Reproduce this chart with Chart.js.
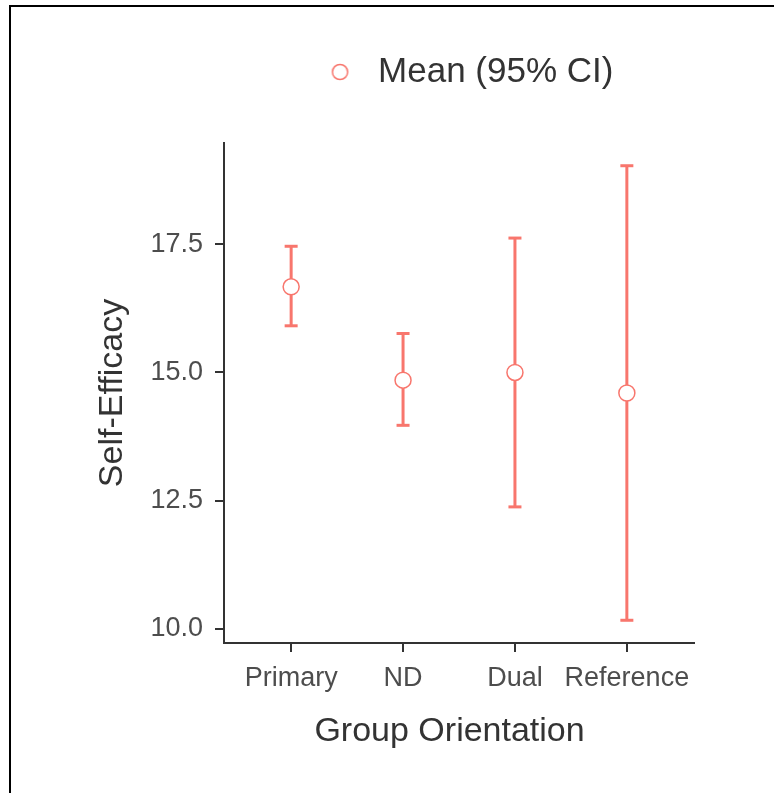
<!DOCTYPE html>
<html>
<head>
<meta charset="utf-8">
<script src="https://cdn.jsdelivr.net/npm/chart.js@4.4.0/dist/chart.umd.min.js"></script>
<style>
  html, body { margin: 0; padding: 0; background: #fff; }
  #wrap { position: relative; width: 774px; height: 793px; }
  #frame { position: absolute; left: 9px; top: 5px; right: 0; bottom: 0;
           border-left: 2px solid #000; border-top: 2px solid #000; pointer-events: none; }
  canvas { display: block; }
</style>
</head>
<body>
<div id="wrap">
  <canvas id="chart" width="774" height="793"></canvas>
  <div id="frame"></div>
</div>
<script>
// Group means of self-efficacy with 95% confidence limits
const categories = ['Primary', 'ND', 'Dual', 'Reference'];
const means   = [16.67, 14.85, 15.00, 14.60];
const lowerCI = [15.91, 13.97, 12.38, 10.17];
const upperCI = [17.46, 15.76, 17.62, 19.03];
const yTickValues = [10.0, 12.5, 15.0, 17.5];

const legendLabel = 'Mean (95% CI)';
const xAxisTitle = 'Group Orientation\u00A0\u00A0';
const yAxisTitle = 'Self-Efficacy';

const SALMON = '#F8766D';
const AXIS = '#333333';
Chart.defaults.font.family = "'Liberation Sans', Arial, Helvetica, sans-serif";

// groups sit at 1..n on a continuous x axis with 0.6 units of room at each end
const xPos = categories.map((_, i) => i + 1);

// y range: data span widened by 5% each side
const yLo = Math.min(...lowerCI), yHi = Math.max(...upperCI);
const yPad = (yHi - yLo) * 0.05;

// open-circle legend marker, set a little right of its box centre
const marker = document.createElement('canvas');
marker.width = 40; marker.height = 22;
(() => {
  const g = marker.getContext('2d');
  g.fillStyle = '#fff';
  g.strokeStyle = SALMON;
  g.lineWidth = 1.5;
  g.beginPath();
  g.arc(27.4, 11, 7.6, 0, Math.PI * 2);
  g.fill();
  g.stroke();
})();

const tickGrid = { display: true, drawOnChartArea: false, drawTicks: true, tickLength: 9, color: AXIS, lineWidth: 2, offset: false };
const axisBorder = { display: true, color: AXIS, width: 2 };

new Chart(document.getElementById('chart'), {
  type: 'scatter',
  data: {
    datasets: [
      {
        type: 'scatter',
        label: legendLabel,
        data: xPos.map((x, i) => ({ x, y: means[i] })),
        pointStyle: 'circle',
        pointRadius: 8,
        pointBorderWidth: 1.5,
        pointBackgroundColor: '#fff',
        pointBorderColor: SALMON
      },
      {
        type: 'scatter',
        label: 'caps',
        data: xPos.flatMap((x, i) => [{ x, y: lowerCI[i] }, { x, y: upperCI[i] }]),
        pointStyle: 'line',
        pointRadius: 6.5,
        pointBorderWidth: 3,
        pointBorderColor: SALMON,
        pointBackgroundColor: SALMON
      },
      {
        type: 'bar',
        label: 'ci',
        data: xPos.map((x, i) => ({ x, y: [lowerCI[i], upperCI[i]] })),
        barThickness: 3,
        backgroundColor: SALMON,
        borderWidth: 0,
        inflateAmount: 0
      }
    ]
  },
  options: {
    responsive: false,
    animation: false,
    events: [],
    layout: { padding: { top: 0, right: 80, bottom: 0, left: 0 } },
    plugins: {
      tooltip: { enabled: false },
      legend: {
        position: 'top',
        fullSize: false,
        align: 'center',
        labels: {
          usePointStyle: true,
          pointStyle: marker,
          pointStyleWidth: 56,
          font: { size: 35 },
          color: AXIS,
          padding: 54.5,
          filter: item => item.datasetIndex === 0
        }
      },
      // blank spacer between the legend and the plot panel
      title: {
        display: true,
        text: '',
        weight: 500,
        font: { size: 10, lineHeight: 1 },
        padding: { top: 0, bottom: 33.5 }
      }
    },
    scales: {
      x: {
        type: 'linear',
        offset: false,
        min: 0.4,
        max: 4.6,
        afterBuildTicks: s => { s.ticks = xPos.map(v => ({ value: v })); },
        afterFit: s => { s.height = 150; },
        ticks: {
          callback: v => categories[v - 1],
          font: { size: 27 },
          color: '#4D4D4D',
          padding: 10,
          maxRotation: 0,
          autoSkip: false
        },
        grid: tickGrid,
        border: axisBorder,
        title: { display: true, text: xAxisTitle, font: { size: 34 }, color: AXIS, padding: { top: 0, bottom: 41 } }
      },
      y: {
        type: 'linear',
        min: yLo - yPad,
        max: yHi + yPad,
        afterBuildTicks: s => { s.ticks = yTickValues.map(v => ({ value: v })); },
        afterFit: s => { s.width = 224; },
        ticks: {
          callback: v => Number(v).toFixed(1),
          font: { size: 27 },
          color: '#4D4D4D',
          padding: 12
        },
        grid: tickGrid,
        border: axisBorder,
        title: { display: true, text: yAxisTitle, font: { size: 34 }, color: AXIS, padding: { top: 92, bottom: 0 } }
      }
    }
  }
});
</script>
</body>
</html>
